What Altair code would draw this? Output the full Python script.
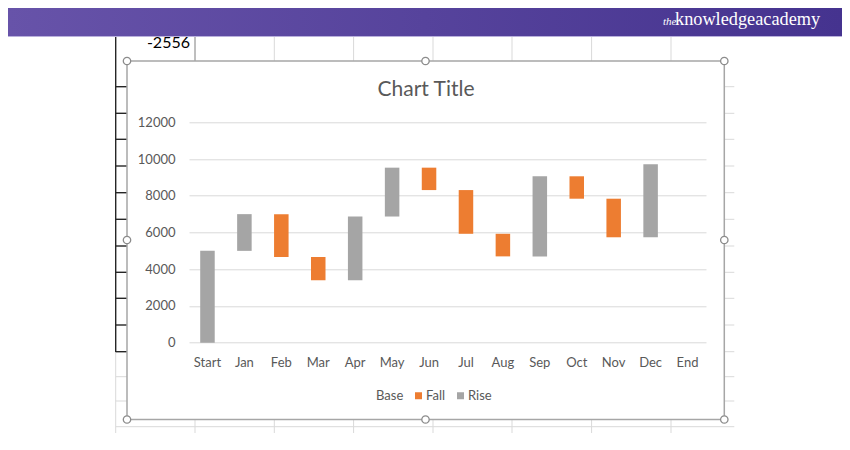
import altair as alt
import pandas as pd

# ---- chart data ----
categories = ["Start", "Jan", "Feb", "Mar", "Apr", "May", "Jun",
              "Jul", "Aug", "Sep", "Oct", "Nov", "Dec", "End"]
base = [0, 5000, 4660, 3400, 3400, 6870, 8310, 5930, 4700, 4700, 7840, 5740, 5740, 0]
fall = [0, 0, 2340, 1260, 0, 0, 1220, 2380, 1230, 0, 1220, 2100, 0, 0]
rise = [5000, 2000, 0, 0, 3470, 2660, 0, 0, 0, 4360, 0, 0, 3970, 0]
series_names = ["Base", "Fall", "Rise"]
series_colors = ["transparent", "#ED7D31", "#A5A5A5"]
y_ticks = [0, 2000, 4000, 6000, 8000, 10000, 12000]
chart_title = "Chart Title"
cell_text = "-2556"

rows = []
for i, c in enumerate(categories):
    b, f, r = base[i], fall[i], rise[i]
    rows.append(dict(cat=c, series="Base", y0=0, y1=b))
    rows.append(dict(cat=c, series="Fall", y0=b, y1=b + f))
    rows.append(dict(cat=c, series="Rise", y0=b + f, y1=b + f + r))
df = pd.DataFrame(rows)

# ---- layout helpers (page pixel -> plot pixel) ----
OX, OY = 189.0, 122.3
W, H = 517, 220.4


def X(p):
    return round(p - OX, 2)


def Y(p):
    return round(p - OY, 2)


FONT = "Lato"
TXT = "#595959"
SHEET = "#d9d9d9"
DARK = "#262626"

# spreadsheet decoration segments (x1, y1, x2, y2, kind)
segs = []
col_x = [195, 274.3, 353.6, 433, 512, 591.6, 671]
for cx in col_x:
    segs.append((cx, 37, cx, 61, "cell" if cx == 195 else "sheet"))
    segs.append((cx, 420, cx, 433, "sheet"))
segs.append((115.7, 37, 115.7, 352, "dark"))
segs.append((115.7, 352, 115.7, 433, "sheet"))
row_y = [86.7, 113.3, 139.3, 166, 192.7, 219.3, 246, 272.3, 298.3, 325, 351.7, 376.7, 401]
for ry in row_y:
    segs.append((115.7, ry, 127, ry, "dark" if ry < 355 else "sheet"))
    segs.append((724.3, ry, 734.3, ry, "sheet"))
segs.append((115.7, 426.7, 734.3, 426.7, "sheet"))
segs.append((8, 36.5, 842, 36.5, "band"))
seg_df = pd.DataFrame([dict(x=X(a), y=Y(b), x2=X(c), y2=Y(d), k=k)
                       for a, b, c, d, k in segs])


def seg_layer(kind, color, width):
    return alt.Chart(seg_df).transform_filter(
        alt.datum.k == kind
    ).mark_rule(color=color, strokeWidth=width).encode(
        x=alt.X("x:Q", scale=None, axis=None),
        x2="x2:Q",
        y=alt.Y("y:Q", scale=None, axis=None),
        y2="y2:Q",
    )


sheet_lines = seg_layer("sheet", SHEET, 1)
cell_lines = seg_layer("cell", "#7f7f7f", 1)
dark_lines = seg_layer("dark", DARK, 1.4)
band_line = seg_layer("band", "#b9b0dc", 1)

cell = alt.Chart(pd.DataFrame({"t": [cell_text]})).mark_text(
    font=FONT, fontSize=16, color="#000000", align="right", baseline="alphabetic"
).encode(x=alt.value(X(190)), y=alt.value(Y(47.5)), text="t:N")

banner = alt.Chart(pd.DataFrame({"a": [1]})).mark_rect(
    fill=alt.LinearGradient(
        gradient="linear",
        stops=[alt.GradientStop(color="#6753A9", offset=0),
               alt.GradientStop(color="#45338F", offset=1)],
        x1=0, x2=1, y1=0, y2=0),
).encode(x=alt.value(X(8)), x2=alt.value(X(842)), y=alt.value(Y(8)), y2=alt.value(Y(36)))

logo_the = alt.Chart(pd.DataFrame({"t": ["the"]})).mark_text(
    font="Liberation Serif", fontSize=11, fontStyle="italic", color="white",
    align="left", baseline="alphabetic"
).encode(x=alt.value(X(663)), y=alt.value(Y(25)), text="t:N")
logo_main = alt.Chart(pd.DataFrame({"t": ["knowledgeacademy"]})).mark_text(
    font="Liberation Serif", fontSize=18.3, color="white",
    align="left", baseline="alphabetic"
).encode(x=alt.value(X(675)), y=alt.value(Y(25)), text="t:N")

frame = alt.Chart(pd.DataFrame({"a": [1]})).mark_rect(
    fillOpacity=0, stroke="#a6a6a6", strokeWidth=1.5
).encode(x=alt.value(X(127)), x2=alt.value(X(724.3)), y=alt.value(Y(61)), y2=alt.value(Y(419.5)))

handle_pts = [(127, 61), (425.5, 61), (724.3, 61), (127, 240), (724.3, 240),
              (127, 419.5), (425.5, 419.5), (724.3, 419.5)]
hdf = pd.DataFrame([dict(x=X(a), y=Y(b)) for a, b in handle_pts])
handles = alt.Chart(hdf).mark_point(
    shape="circle", filled=True, fill="white", stroke="#8c8c8c", strokeWidth=1.3,
    size=55, opacity=1
).encode(x=alt.X("x:Q", scale=None, axis=None), y=alt.Y("y:Q", scale=None, axis=None))

title = alt.Chart(pd.DataFrame({"t": [chart_title]})).mark_text(
    font=FONT, fontSize=21, color=TXT, align="center", baseline="alphabetic"
).encode(x=alt.value(X(426)), y=alt.value(Y(96)), text="t:N")

bars = alt.Chart(df).mark_bar().encode(
    x=alt.X("cat:N", sort=categories, title=None,
            scale=alt.Scale(paddingInner=0.607, paddingOuter=0.3035),
            axis=alt.Axis(labelAngle=0, ticks=False, domain=False, grid=False,
                          labelPadding=14, labelFont=FONT, labelFontSize=13,
                          labelColor=TXT)),
    y=alt.Y("y0:Q", title=None,
            scale=alt.Scale(domain=[0, 12000], nice=False),
            axis=alt.Axis(values=y_ticks, format="d", ticks=False, domain=False,
                          labelPadding=14, labelFont=FONT, labelFontSize=13,
                          labelColor=TXT, gridColor="#d9d9d9", gridWidth=1)),
    y2="y1:Q",
    color=alt.Color("series:N",
                    scale=alt.Scale(domain=series_names, range=series_colors),
                    legend=alt.Legend(title=None, orient="none", legendX=X(362),
                                      legendY=Y(389), direction="horizontal",
                                      symbolType="square", symbolSize=49,
                                      symbolStrokeWidth=0, labelFont=FONT,
                                      labelFontSize=13, labelColor=TXT,
                                      labelOffset=1, columnPadding=8, padding=0)),
)

chart = alt.layer(
    sheet_lines, cell_lines, dark_lines, cell, banner, band_line, logo_the,
    logo_main, frame, handles, title, bars
).properties(
    width=W, height=H,
    autosize=alt.AutoSizeParams(type="none"),
    padding={"left": 181, "top": 114.3, "right": 136, "bottom": 95.3},
    background="white",
).configure_view(stroke=None)

chart.save("out.html", embed_options={"renderer": "svg", "actions": False})
